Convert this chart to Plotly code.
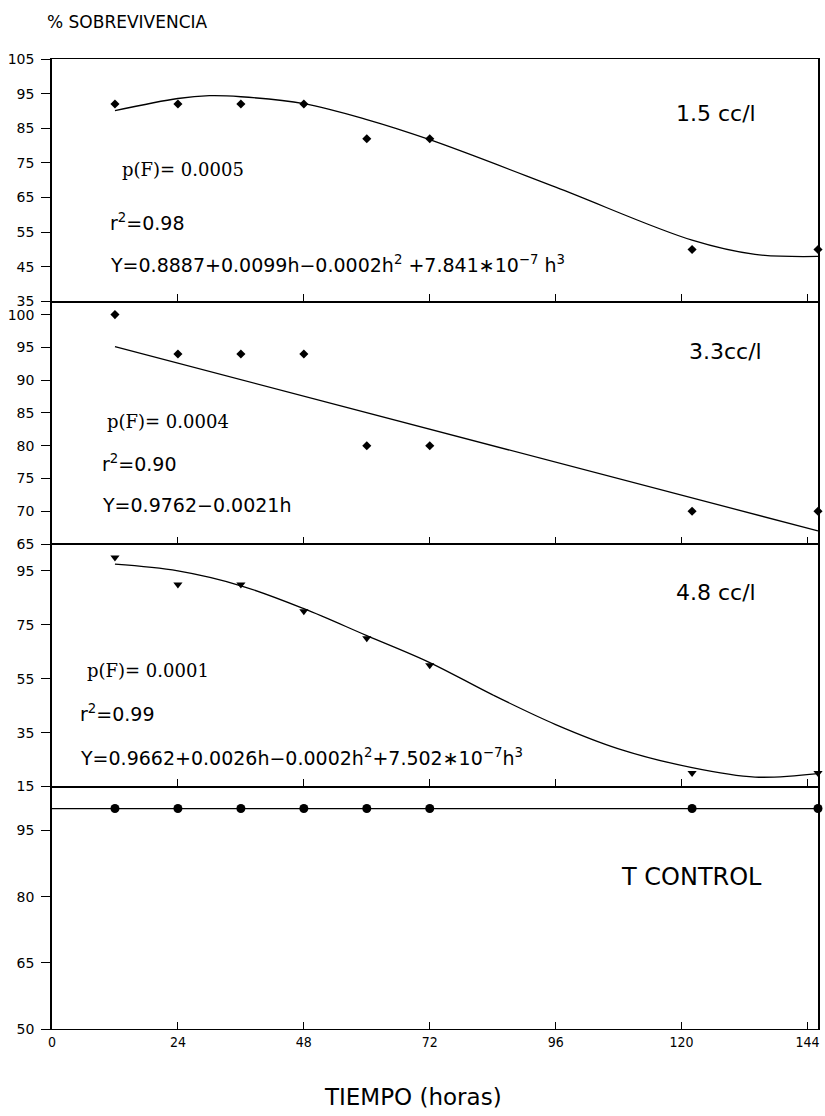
import plotly.graph_objects as go
from plotly.subplots import make_subplots

# ---------------- data ----------------
horas = [12, 24, 36, 48, 60, 72, 122, 146]

# panel 1 : 1.5 cc/l
sob_15 = [92, 92, 92, 92, 82, 82, 50, 50]
curva_15_x = [12, 24, 30, 36, 48, 60, 72, 96, 122, 134, 146]
curva_15_y = [90.1, 93.6, 94.4, 94.1, 92.1, 87.5, 81.7, 68, 52.7, 48.6, 48]

# panel 2 : 3.3 cc/l
sob_33 = [100, 94, 94, 94, 80, 80, 70, 70]
recta_33_x = [12, 146]
recta_33_y = [95.1, 67.0]

# panel 3 : 4.8 cc/l
sob_48 = [100, 90, 90, 80, 70, 60, 20, 20]
curva_48_x = [12, 24, 36, 48, 60, 72, 84, 96, 108, 122, 134, 146]
curva_48_y = [97.5, 95, 89.5, 81, 71, 61, 49, 38, 29, 22, 18.5, 19.8]

# panel 4 : T control
sob_ctrl = [100, 100, 100, 100, 100, 100, 100, 100]
linea_ctrl_x = [0, 146]
linea_ctrl_y = [100, 100]

x_ticks = [0, 24, 48, 72, 96, 120, 144]
y_ticks_1 = [35, 45, 55, 65, 75, 85, 95, 105]
y_ticks_2 = [65, 70, 75, 80, 85, 90, 95, 100]
y_ticks_3 = [15, 35, 55, 75, 95]
y_ticks_4 = [50, 65, 80, 95]
y_range_1 = [35, 105]
y_range_2 = [65, 102]
y_range_3 = [15, 105]
y_range_4 = [50, 105]
x_range = [0, 146]

# ---------------- figure ----------------
fig = make_subplots(rows=4, cols=1, shared_xaxes=True, vertical_spacing=0)

line_style = dict(color="black", width=1.3)

fig.add_trace(go.Scatter(x=curva_15_x, y=curva_15_y, mode="lines", line_shape="spline",
                         line=line_style, hoverinfo="skip"), row=1, col=1)
fig.add_trace(go.Scatter(x=horas, y=sob_15, mode="markers",
                         marker=dict(symbol="diamond", size=7, color="black"),
                         cliponaxis=False), row=1, col=1)

fig.add_trace(go.Scatter(x=recta_33_x, y=recta_33_y, mode="lines",
                         line=line_style, hoverinfo="skip"), row=2, col=1)
fig.add_trace(go.Scatter(x=horas, y=sob_33, mode="markers",
                         marker=dict(symbol="diamond", size=7, color="black"),
                         cliponaxis=False), row=2, col=1)

fig.add_trace(go.Scatter(x=curva_48_x, y=curva_48_y, mode="lines", line_shape="spline",
                         line=line_style, hoverinfo="skip"), row=3, col=1)
fig.add_trace(go.Scatter(x=horas, y=sob_48, mode="markers",
                         marker=dict(symbol="triangle-down", size=8, color="black"),
                         cliponaxis=False), row=3, col=1)

fig.add_trace(go.Scatter(x=linea_ctrl_x, y=linea_ctrl_y, mode="lines",
                         line=line_style, hoverinfo="skip"), row=4, col=1)
fig.add_trace(go.Scatter(x=horas, y=sob_ctrl, mode="markers",
                         marker=dict(symbol="circle", size=9, color="black"),
                         cliponaxis=False), row=4, col=1)

tick_font = dict(family="DejaVu Sans", size=14, color="black")

for i in range(1, 5):
    fig.update_xaxes(row=i, col=1, range=x_range, tickvals=x_ticks,
                     ticks="inside", ticklen=7, tickwidth=1.2, tickcolor="black",
                     showline=True, linecolor="black", linewidth=1.2, mirror=True,
                     showgrid=False, zeroline=False, automargin=False,
                     showticklabels=(i == 4),
                     tickfont=dict(family="DejaVu Sans Condensed, DejaVu Sans", size=14, color="black"))

y_specs = [(y_range_1, y_ticks_1, [0.75, 1.0]),
           (y_range_2, y_ticks_2, [0.5, 0.75]),
           (y_range_3, y_ticks_3, [0.25, 0.5]),
           (y_range_4, y_ticks_4, [0.0, 0.25])]
for i, (rng, tv, dom) in enumerate(y_specs, start=1):
    fig.update_yaxes(row=i, col=1, range=rng, tickvals=tv, domain=dom,
                     ticks="outside", ticklen=9, tickwidth=1.2, tickcolor="black",
                     showline=True, linecolor="black", linewidth=1.5, mirror=True,
                     showgrid=False, zeroline=False, tickfont=tick_font,
                     ticklabelstandoff=4, automargin=False)

sans = "DejaVu Sans"
serif = "DejaVu Serif"


def note(text, x, y, size, family=sans, xanchor="left"):
    fig.add_annotation(text=text, x=x, y=y, xref="paper", yref="paper",
                       xanchor=xanchor, yanchor="middle", showarrow=False,
                       font=dict(family=family, size=size, color="black"))


# panel 1
note("p(F)= 0.0005", 0.0888, 0.8856, 18, serif)
note("r<sup>2</sup>=0.98", 0.0731, 0.832, 19)
note("Y=0.8887+0.0099h\u22120.0002h<sup>2</sup> +7.841\u2217<span>10</span><sup>\u22127</sup> h<sup>3</sup>",
     0.0731, 0.7887, 19)
note("1.5 cc/l", 0.867, 0.9443, 22, xanchor="center")

# panel 2
note("p(F)= 0.0004", 0.0692, 0.6258, 18, serif)
note("r<sup>2</sup>=0.90", 0.0627, 0.5835, 19)
note("Y=0.9762\u22120.0021h", 0.0627, 0.5402, 19)
note("3.3cc/l", 0.8786, 0.698, 22, xanchor="center")

# panel 3
note("p(F)= 0.0001", 0.0431, 0.3701, 18, serif)
note("r<sup>2</sup>=0.99", 0.0339, 0.3258, 19)
note("Y=0.9662+0.0026h\u22120.0002h<sup>2</sup>+7.502\u221710<sup>\u22127</sup>h<sup>3</sup>",
     0.0339, 0.2804, 19)
note("4.8 cc/l", 0.867, 0.4495, 22, xanchor="center")

# panel 4
note("T CONTROL", 0.8355, 0.1567, 24, xanchor="center")

# titles
note("% SOBREVIVENCIA", -0.009, 1.038, 17)
note("TIEMPO (horas)", 0.471, -0.0701, 23, xanchor="center")

fig.update_layout(width=825, height=1116,
                  margin=dict(l=52, r=7, t=59, b=87, autoexpand=False),
                  plot_bgcolor="white", paper_bgcolor="white",
                  showlegend=False)

fig.write_html("out.html",
               config={"displayModeBar": False},
               post_script="document.body.style.margin='0';"
                           "document.body.style.overflow='hidden';")
